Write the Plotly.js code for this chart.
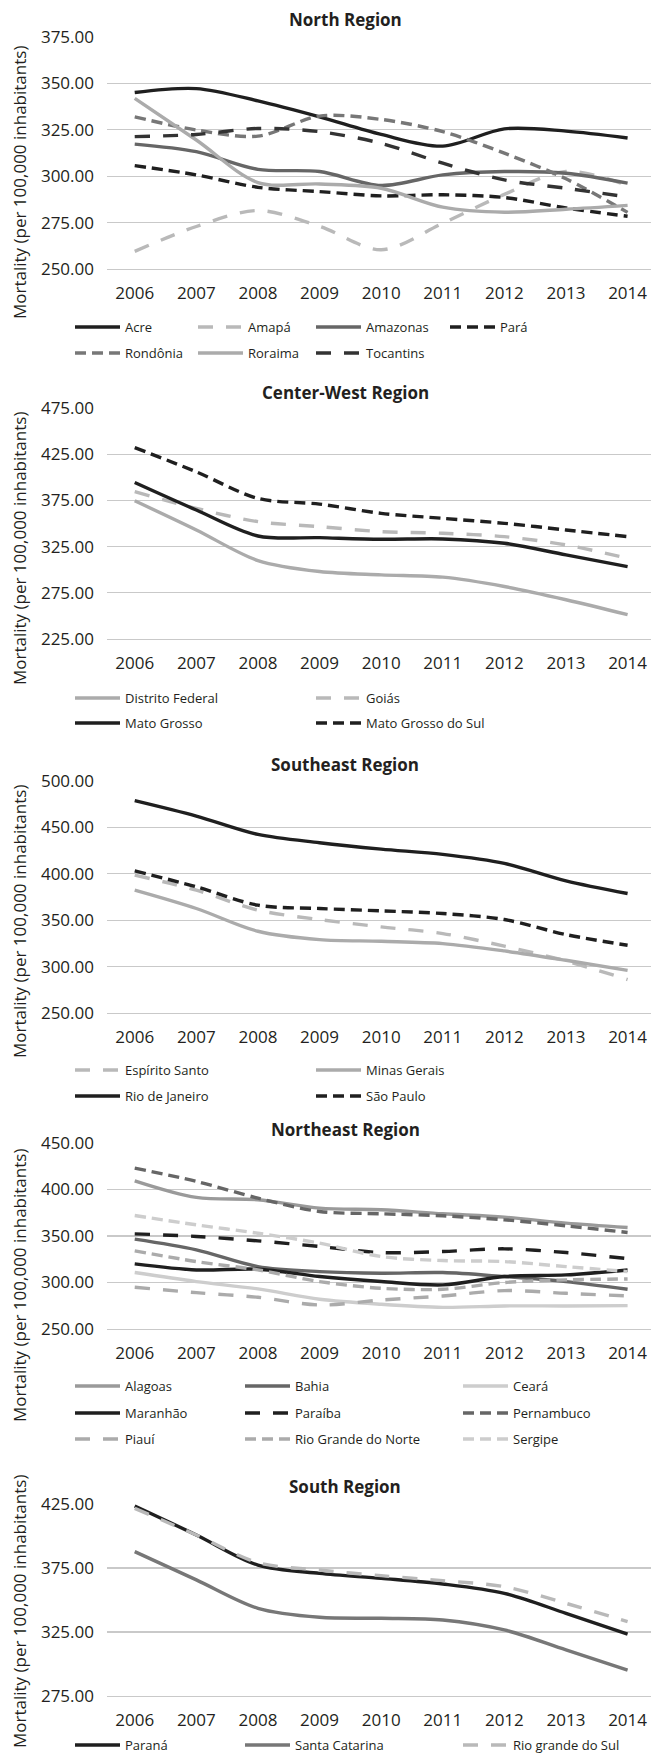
<!DOCTYPE html>
<html>
<head>
<meta charset="utf-8">
<script src="https://cdn.plot.ly/plotly-3.0.1.min.js"></script>
<style>html,body{margin:0;padding:0;background:#fff;} #chart{width:651px;height:1756px;}</style>
</head>
<body>
<div id="chart"></div>
<script>
// ---------- DATA ----------
const years = [2006, 2007, 2008, 2009, 2010, 2011, 2012, 2013, 2014];

// North Region
const northNames = ['Acre', 'Amapá', 'Amazonas', 'Pará', 'Rondônia', 'Roraima', 'Tocantins'];
const acre      = [345.1, 347.2, 340.6, 332.0, 322.5, 316.2, 325.5, 324.3, 320.6];
const amapa     = [259.5, 272.9, 281.5, 273.0, 260.4, 274.6, 290.2, 302.6, 295.0];
const amazonas  = [317.3, 313.2, 303.7, 302.5, 295.0, 300.7, 302.5, 301.6, 296.3];
const para      = [305.7, 300.7, 294.0, 291.7, 289.4, 290.0, 288.5, 282.9, 278.4];
const rondonia  = [332.0, 324.9, 321.6, 332.4, 330.6, 324.0, 312.4, 298.6, 280.5];
const roraima   = [341.9, 319.5, 296.6, 295.8, 293.5, 283.3, 280.6, 282.2, 284.3];
const tocantins = [321.3, 322.5, 325.7, 324.0, 317.7, 307.0, 298.0, 293.5, 288.8];

// Center-West Region
const centerWestNames = ['Distrito Federal', 'Goiás', 'Mato Grosso', 'Mato Grosso do Sul'];
const distritoFederal  = [374.6, 343.0, 309.9, 298.0, 294.4, 291.9, 281.8, 267.5, 251.3];
const goias            = [384.4, 366.4, 352.0, 346.6, 341.2, 339.4, 335.8, 326.8, 312.4];
const matoGrosso       = [394.4, 364.6, 336.5, 334.7, 332.9, 333.3, 328.6, 316.0, 303.4];
const matoGrossoDoSul  = [432.2, 405.9, 377.2, 371.0, 361.0, 355.6, 350.2, 343.0, 335.8];

// Southeast Region
const southeastNames = ['Espírito Santo', 'Minas Gerais', 'Rio de Janeiro', 'São Paulo'];
const espiritoSanto = [398.6, 382.4, 360.8, 350.7, 342.8, 335.6, 322.0, 306.1, 286.0];
const minasGerais   = [382.4, 362.6, 338.1, 329.1, 327.3, 324.8, 316.9, 306.8, 296.0];
const rioDeJaneiro  = [478.8, 462.2, 442.4, 433.5, 426.6, 420.9, 411.2, 392.4, 378.8];
const saoPaulo      = [403.2, 386.0, 366.2, 362.6, 360.1, 357.2, 350.7, 334.5, 323.0];

// Northeast Region
const northeastNames = ['Alagoas', 'Bahia', 'Ceará', 'Maranhão', 'Paraíba', 'Pernambuco', 'Piauí', 'Rio Grande do Norte', 'Sergipe'];
const alagoas           = [409.4, 391.5, 389.0, 380.0, 378.2, 373.9, 370.3, 363.8, 359.1];
const bahia             = [346.6, 335.1, 317.1, 311.7, 310.0, 310.7, 306.4, 301.0, 292.7];
const ceara             = [310.7, 301.0, 293.1, 282.0, 276.6, 273.3, 274.8, 274.8, 275.1];
const maranhao          = [320.0, 313.5, 314.3, 306.4, 301.0, 297.4, 306.4, 308.2, 313.5];
const paraiba           = [352.3, 349.5, 344.8, 338.7, 332.2, 333.3, 336.2, 332.2, 325.7];
const pernambuco        = [423.0, 408.7, 390.7, 376.4, 373.9, 371.7, 367.4, 360.9, 353.8];
const piaui             = [294.9, 289.1, 284.1, 275.8, 281.2, 285.5, 291.3, 288.4, 285.5];
const rioGrandeDoNorte  = [334.0, 322.5, 313.5, 301.0, 293.8, 292.7, 300.0, 302.8, 303.8];
const sergipe           = [372.0, 362.0, 353.0, 342.3, 327.9, 323.6, 322.5, 317.1, 311.7];

// South Region
const southNames = ['Paraná', 'Santa Catarina', 'Rio grande do Sul'];
const parana        = [423.4, 400.8, 377.3, 370.8, 366.9, 362.5, 355.2, 339.6, 323.4];
const santaCatarina = [387.8, 365.7, 343.5, 336.5, 335.7, 334.4, 326.6, 311.0, 295.3];
const rioGrandeDoSul= [421.6, 400.8, 379.2, 373.4, 369.0, 365.1, 360.4, 347.4, 333.1];

const yTitle = 'Mortality (per 100,000 inhabitants)';

// ---------- STYLES / LAYOUT ----------
const W = 651, H = 1756;
const FONT = '"Open Sans", "Noto Sans", sans-serif';
const TXT = '#231f20';
const GRID = '#c9c9c9';
const K = '#1f1f1f', DK = '#333333', G1 = '#666666', G2 = '#777777', G3 = '#9a9a9a', G4 = '#ababab', G5 = '#b9b9b9', G6 = '#cdcdcd';
const SOLID = 'solid', DASH = '11px,6px', LDASH = '15px,13px';
const LW = 3.4;
const ITEMW = 45;

const px = v => v / W;
const py = v => 1 - v / H;

const panels = [
  { title: 'North Region', titleY: 20, top: 37, bottom: 269, range: [250, 375], dtick: 25, yTitleY: 183,
    names: northNames, values: [acre, amapa, amazonas, para, rondonia, roraima, tocantins],
    styles: [[K, SOLID], [G5, LDASH], [G1, SOLID], [K, DASH], [G2, DASH], [G4, SOLID], [DK, LDASH]],
    rows: [327, 353], cols: [125, 248, 366, 500], cells: [[0,0],[0,1],[0,2],[0,3],[1,0],[1,1],[1,2]] },
  { title: 'Center-West Region', titleY: 392, top: 408, bottom: 639, range: [225, 475], dtick: 50, yTitleY: 549,
    names: centerWestNames, values: [distritoFederal, goias, matoGrosso, matoGrossoDoSul],
    styles: [[G4, SOLID], [G5, LDASH], [K, SOLID], [K, DASH]],
    rows: [698, 723], cols: [125, 366], cells: [[0,0],[0,1],[1,0],[1,1]] },
  { title: 'Southeast Region', titleY: 764, top: 781, bottom: 1013, range: [250, 500], dtick: 50, yTitleY: 922,
    names: southeastNames, values: [espiritoSanto, minasGerais, rioDeJaneiro, saoPaulo],
    styles: [[G5, LDASH], [G4, SOLID], [K, SOLID], [K, DASH]],
    rows: [1070, 1096], cols: [125, 366], cells: [[0,0],[0,1],[1,0],[1,1]] },
  { title: 'Northeast Region', titleY: 1129, top: 1143, bottom: 1329, range: [250, 450], dtick: 50, yTitleY: 1286,
    names: northeastNames, values: [alagoas, bahia, ceara, maranhao, paraiba, pernambuco, piaui, rioGrandeDoNorte, sergipe],
    styles: [[G3, SOLID], [G1, SOLID], [G6, SOLID], [K, SOLID], [K, LDASH], [G1, DASH], [G4, LDASH], [G4, DASH], [G6, DASH]],
    rows: [1386, 1413, 1439], cols: [125, 295, 513], cells: [[0,0],[0,1],[0,2],[1,0],[1,1],[1,2],[2,0],[2,1],[2,2]] },
  { title: 'South Region', titleY: 1486, top: 1504, bottom: 1696, range: [275, 425], dtick: 50, yTitleY: 1612,
    names: southNames, values: [parana, santaCatarina, rioGrandeDoSul],
    styles: [[K, SOLID], [G2, SOLID], [G5, LDASH]],
    rows: [1745], cols: [125, 295, 513], cells: [[0,0],[0,1],[0,2]] }
];

const data = [];
const layout = {
  width: W, height: H,
  margin: { l: 0, r: 0, t: 0, b: 0, autoexpand: false },
  paper_bgcolor: '#fff', plot_bgcolor: '#fff',
  font: { family: FONT, color: TXT, size: 17 },
  annotations: []
};

let legendCount = 0;
panels.forEach((p, i) => {
  const n = i + 1;
  const xa = n === 1 ? 'xaxis' : 'xaxis' + n;
  const ya = n === 1 ? 'yaxis' : 'yaxis' + n;
  layout[xa] = {
    domain: [px(107), 1], range: [2005.55, 2014.38], tickmode: 'array', tickvals: years,
    ticktext: years.map(String), showgrid: false, zeroline: false, showline: true,
    linecolor: GRID, linewidth: 1.2, ticks: '', ticklabelstandoff: 8,
    tickfont: { family: FONT, size: 17, color: TXT }, anchor: n === 1 ? 'y' : 'y' + n, fixedrange: true
  };
  layout[ya] = {
    domain: [py(p.bottom), py(p.top)], range: p.range, dtick: p.dtick, tick0: p.range[0],
    tickformat: '.2f', showgrid: true, gridcolor: GRID, gridwidth: 1.2, zeroline: false, showline: false,
    ticks: '', ticklabelstandoff: 12, tickfont: { family: FONT, size: 17, color: TXT },
    anchor: n === 1 ? 'x' : 'x' + n, fixedrange: true
  };
  p.names.forEach((name, j) => {
    legendCount += 1;
    const lg = legendCount === 1 ? 'legend' : 'legend' + legendCount;
    const cell = p.cells[j];
    layout[lg] = {
      x: px(p.cols[cell[1]] - (ITEMW + 10)), y: py(p.rows[cell[0]]), xanchor: 'left', yanchor: 'middle',
      bgcolor: 'rgba(0,0,0,0)', borderwidth: 0, font: { family: FONT, size: 13, color: TXT },
      itemwidth: ITEMW, tracegroupgap: 0, itemclick: false, itemdoubleclick: false
    };
    data.push({
      type: 'scatter', mode: 'lines', name: name, x: years, y: p.values[j],
      xaxis: n === 1 ? 'x' : 'x' + n, yaxis: n === 1 ? 'y' : 'y' + n, legend: lg,
      line: { color: p.styles[j][0], dash: p.styles[j][1], width: LW, shape: 'spline', smoothing: 0.9 },
      hoverinfo: 'skip', showlegend: true
    });
  });
  layout.annotations.push({
    text: '<b>' + p.title + '</b>', xref: 'paper', yref: 'paper', x: px(345), y: py(p.titleY),
    xanchor: 'center', yanchor: 'middle', showarrow: false, font: { family: FONT, size: 17, color: TXT }
  });
  layout.annotations.push({
    text: yTitle, xref: 'paper', yref: 'paper', x: px(19), y: py(p.yTitleY), textangle: -90,
    xanchor: 'center', yanchor: 'middle', showarrow: false, font: { family: FONT, size: 17, color: TXT }
  });
});

Plotly.newPlot('chart', data, layout, { staticPlot: true, displayModeBar: false });
</script>
</body>
</html>
